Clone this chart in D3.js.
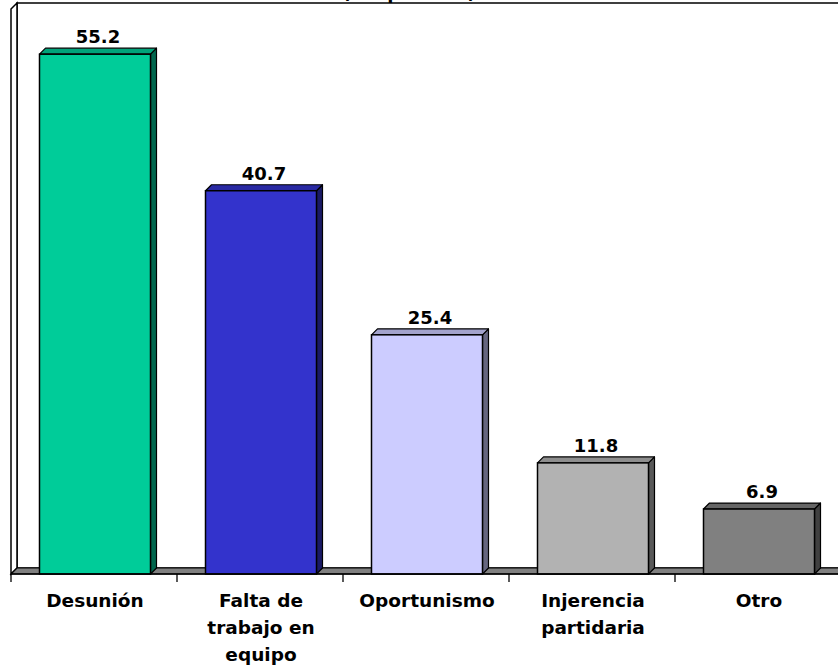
<!DOCTYPE html>
<html>
<head>
<meta charset="utf-8">
<script src="https://cdn.jsdelivr.net/npm/d3@7"></script>
<style>
  html, body { margin: 0; padding: 0; background: #fff; overflow: hidden; }
  svg { display: block; }
  text { font-family: "DejaVu Sans", Verdana, sans-serif; font-weight: bold; fill: #000; }
</style>
</head>
<body>
<svg id="chart" width="838" height="665"></svg>
<script>
const categories = ["Desunión", "Falta de trabajo en equipo", "Oportunismo", "Injerencia partidaria", "Otro"];
const categoryLines = [["Desunión"], ["Falta de", "trabajo en", "equipo"], ["Oportunismo"], ["Injerencia", "partidaria"], ["Otro"]];
const values = [55.2, 40.7, 25.4, 11.8, 6.9];
const frontColors = ["#00CC99", "#3333CC", "#CCCCFF", "#B2B2B2", "#808080"];
const titleText = "(Respuestas)";

const svg = d3.select("#chart");
const W = 838, H = 665;
const dx = 6, dy = 6;            // 3D depth offsets
const left = 11, bottom = 574;

const x = d3.scaleBand().domain(categories).range([left, left + 166 * 5]).paddingInner(0).paddingOuter(0);
const y = d3.scaleLinear().domain([0, 60]).range([bottom, 9]);

function shade(c, k) { const r = d3.rgb(c); return d3.rgb(r.r * k, r.g * k, r.b * k).formatHex(); }

// Title (mostly cut off above the viewport)
svg.append("text").attr("x", 409).attr("y", -1).attr("text-anchor", "middle")
  .style("font-size", "18px").text(titleText);

const xEnd = x.range()[1];
const yTop = y.range()[1];

// Back wall
svg.append("polygon")
  .attr("points", [[left + dx, yTop - dy], [xEnd + dx + 20, yTop - dy], [xEnd + dx + 20, bottom - dy], [left + dx, bottom - dy]].join(" "))
  .attr("fill", "#fff").attr("stroke", "#000").attr("stroke-width", 1.5);
// Left side wall
svg.append("polygon")
  .attr("points", [[left, yTop], [left + dx, yTop - dy], [left + dx, bottom - dy], [left, bottom]].join(" "))
  .attr("fill", "#fff").attr("stroke", "#000").attr("stroke-width", 1.5);
// Floor
svg.append("polygon")
  .attr("points", [[left, bottom], [left + dx, bottom - dy], [xEnd + dx + 20, bottom - dy], [xEnd + 20, bottom]].join(" "))
  .attr("fill", "#808080").attr("stroke", "#000").attr("stroke-width", 1.2);

// Bars
const barW = 111;
const g = svg.append("g");
categories.forEach((c, i) => {
  const cx = x(c) + x.bandwidth() / 2 + 1;
  const x0 = cx - barW / 2, x1 = cx + barW / 2;
  const yt = y(values[i]), yb = y(0);
  const col = frontColors[i];
  // side
  g.append("polygon")
    .attr("points", [[x1, yt], [x1 + dx, yt - dy], [x1 + dx, yb - dy], [x1, yb]].join(" "))
    .attr("fill", shade(col, 0.5)).attr("stroke", "#000").attr("stroke-width", 1.2).attr("stroke-linejoin", "round");
  // top
  g.append("polygon")
    .attr("points", [[x0, yt], [x0 + dx, yt - dy], [x1 + dx, yt - dy], [x1, yt]].join(" "))
    .attr("fill", shade(col, 0.8)).attr("stroke", "#000").attr("stroke-width", 1.2).attr("stroke-linejoin", "round");
  // front
  g.append("rect").attr("x", x0).attr("y", yt).attr("width", barW).attr("height", yb - yt)
    .attr("fill", col).attr("stroke", "#000").attr("stroke-width", 1.5);
  // value label
  g.append("text").attr("x", cx + dx / 2).attr("y", yt - dy - 5).attr("text-anchor", "middle")
    .style("font-size", "18px").text(values[i].toFixed(1));
});

// Category axis
const axis = svg.append("g");
axis.append("line").attr("x1", left).attr("x2", W).attr("y1", bottom).attr("y2", bottom)
  .attr("stroke", "#000").attr("stroke-width", 1.5);
const tickPos = categories.map(c => x(c)).concat([xEnd]);
tickPos.forEach(t => {
  axis.append("line").attr("x1", t).attr("x2", t).attr("y1", bottom).attr("y2", bottom + 8)
    .attr("stroke", "#000").attr("stroke-width", 1.3);
});
categories.forEach((c, i) => {
  const t = axis.append("text").attr("text-anchor", "middle").style("font-size", "18.5px")
    .attr("x", x(c) + x.bandwidth() / 2 + 1).attr("y", 607);
  categoryLines[i].forEach((ln, j) => {
    t.append("tspan").attr("x", x(c) + x.bandwidth() / 2 + 1).attr("y", 607 + j * 27).text(ln);
  });
});
</script>
</body>
</html>
